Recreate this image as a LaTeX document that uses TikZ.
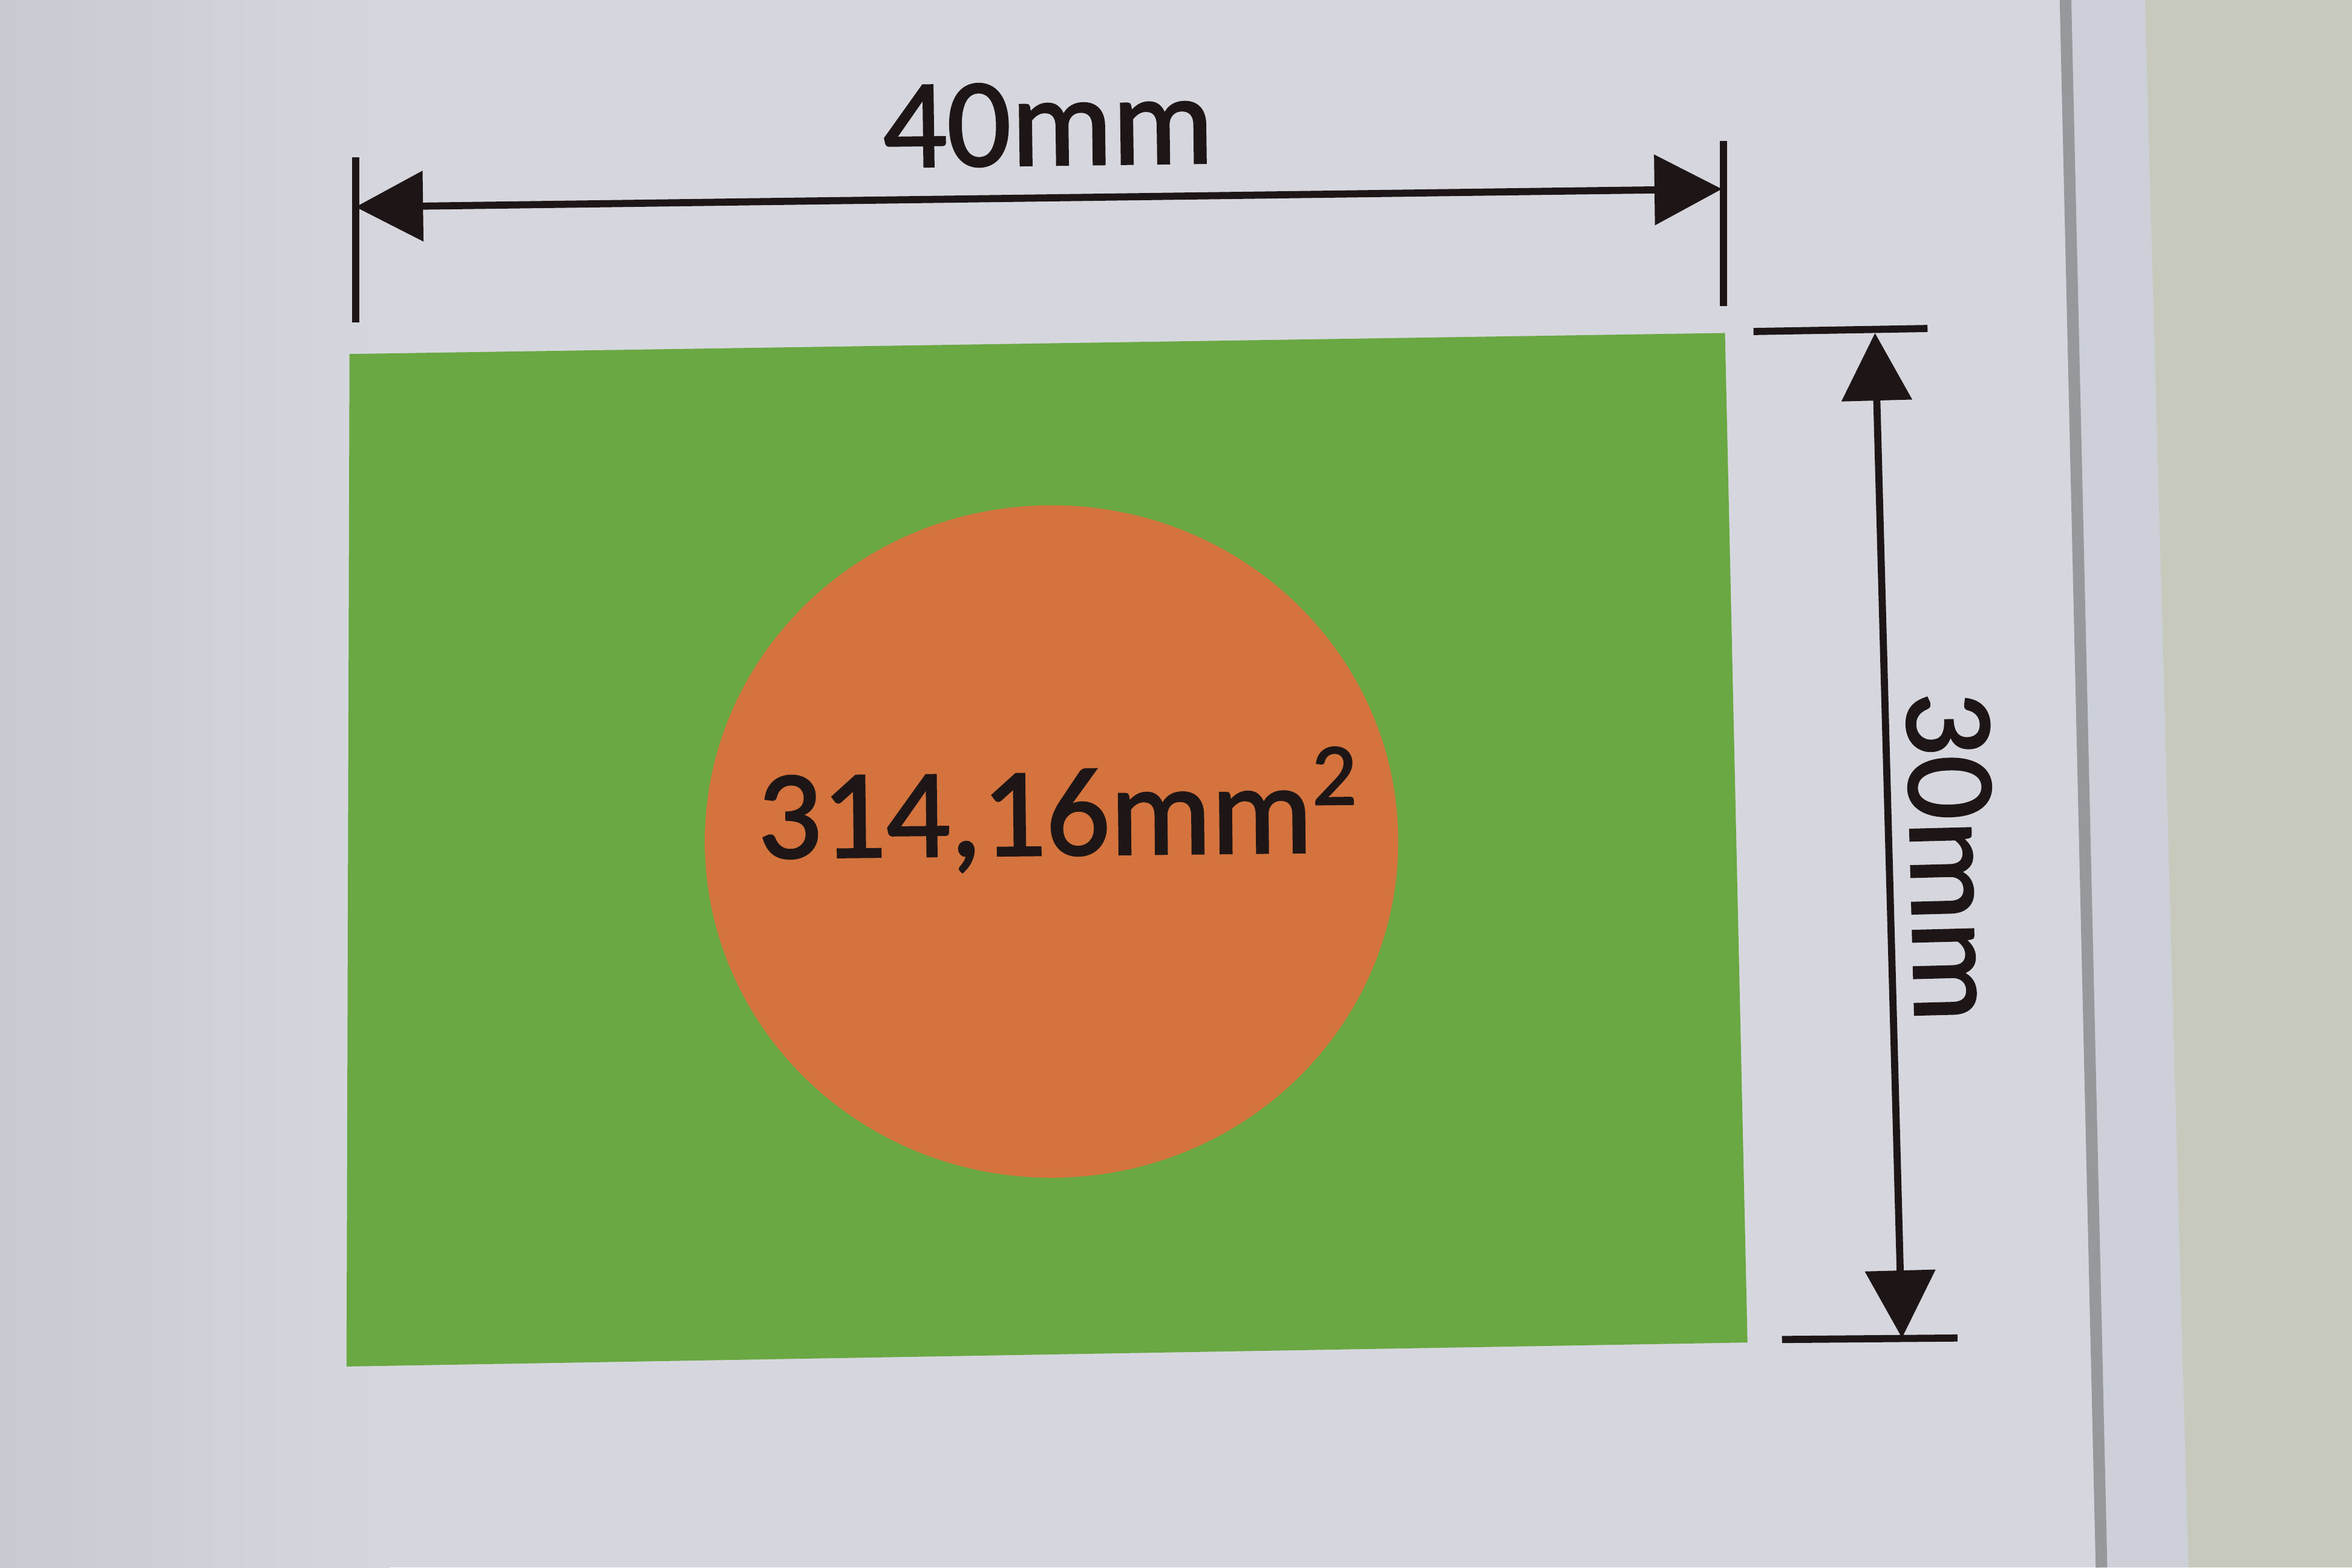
\documentclass[tikz,border=0pt]{standalone}
\usepackage{fontspec}
\setmainfont{Carlito}
\newfontfamily\inkfont{Carlito}[RawFeature={embolden=1.6}]
\usetikzlibrary{arrows.meta}
\definecolor{paper}{RGB}{214,215,222}
\definecolor{paperdark}{RGB}{200,202,210}
\definecolor{strip}{RGB}{205,208,216}
\definecolor{tablebg}{RGB}{198,201,188}
\definecolor{edgeline}{RGB}{150,152,156}
\definecolor{greenfill}{RGB}{106,168,67}
\definecolor{orangefill}{RGB}{212,115,61}
\definecolor{ink}{RGB}{30,22,22}
\tikzset{
  dimline/.style={draw=ink, line width=1.35pt, {Triangle[length=0.45cm,width=0.46cm]}-{Triangle[length=0.45cm,width=0.46cm]}},
  extline/.style={draw=ink, line width=1.35pt},
  dimtext/.style={text=ink, inner sep=0pt, font=\inkfont\fontsize{24}{28}\selectfont}
}
\begin{document}
\begin{tikzpicture}[x=0.01cm,y=-0.01cm]
\useasboundingbox (0,0) rectangle (1568,1045);
% background: paper, folded edge and table
\fill[paper] (0,0) rectangle (1568,1045);
\shade[left color=paperdark, right color=paper] (0,0) rectangle (260,1045);
\fill[strip] (1378,0) -- (1430,0) -- (1459,1045) -- (1402,1045) -- cycle;
\fill[tablebg] (1430,0) -- (1568,0) -- (1568,1045) -- (1459,1045) -- cycle;
\draw[edgeline, line width=2.2pt] (1377,0) -- (1401,1045);
% green rectangle
\fill[greenfill] (233,236) -- (1150,222) -- (1165,895) -- (231,911) -- cycle;
% orange circle
\fill[orangefill] (701,561) ellipse [x radius=2.31cm, y radius=2.24cm];
\node[dimtext, anchor=base, rotate=0.6] (area) at (706,570) {314,16mm\textsuperscript{2}};
% horizontal dimension
\coordinate (hl1) at (237,105);
\coordinate (hl2) at (237,215);
\coordinate (hr1) at (1149,94);
\coordinate (hr2) at (1149,204);
\coordinate (hL) at (237,138);
\coordinate (hR) at (1148,126);
\draw[extline] (hl1) -- (hl2);
\draw[extline] (hr1) -- (hr2);
\draw[dimline] (hL) -- (hR);
\node[dimtext, anchor=base, rotate=0.75] (wlabel) at (699,110) {40mm};
% vertical dimension
\coordinate (vt1) at (1169,221);
\coordinate (vt2) at (1285,219);
\coordinate (vb1) at (1188,893);
\coordinate (vb2) at (1305,892);
\coordinate (vT) at (1250,222);
\coordinate (vB) at (1268,892);
\draw[extline] (vt1) -- (vt2);
\draw[extline] (vb1) -- (vb2);
\draw[dimline] (vT) -- (vB);
\node[dimtext, rotate=-88.5] (hlabel) at (1301,571) {30mm};
\end{tikzpicture}
\end{document}
